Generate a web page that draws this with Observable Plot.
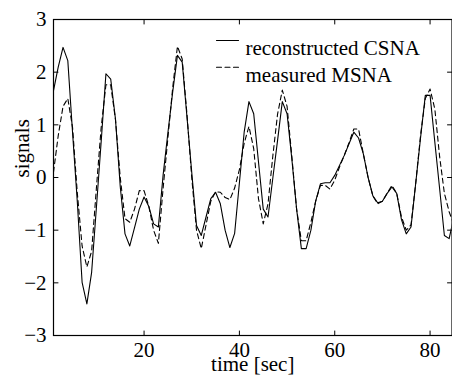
<!DOCTYPE html>
<html><head><meta charset="utf-8">
<script src="https://cdn.jsdelivr.net/npm/d3@7"></script>
<script src="https://cdn.jsdelivr.net/npm/@observablehq/plot@0.6"></script>
<style>
body{margin:0;background:#fff}
#chart svg{background:#fff;color:#000}
#chart svg, #chart svg text{font-family:"Liberation Serif","Times New Roman",serif !important}
</style>
</head><body><div id="chart"></div>
<script>
// time axis (sec), one sample per second
const time = d3.range(1, 86);
// reconstructed CSNA (solid)
const csna = [1.65, 2.1, 2.47, 2.22, 0.85, -0.47, -1.99, -2.40, -1.80, -0.57,
  0.68, 1.97, 1.87, 1.11, -0.17, -1.07, -1.30, -0.95, -0.60, -0.37,
  -0.55, -0.88, -0.94, 0.05, 0.85, 1.62, 2.32, 2.19, 1.15, 0.10,
  -0.91, -1.10, -0.75, -0.40, -0.28, -0.50, -1.00, -1.33, -1.06, -0.10,
  0.86, 1.44, 1.21, 0.30, -0.60, -0.75, -0.02, 0.70, 1.44, 1.21,
  0.35, -0.60, -1.35, -1.35, -1.00, -0.45, -0.12, -0.10, -0.10, 0.04,
  0.23, 0.42, 0.64, 0.86, 0.75, 0.45, 0.00, -0.35, -0.48, -0.45,
  -0.30, -0.18, -0.30, -0.80, -1.07, -0.94, -0.10, 0.75, 1.56, 1.56,
  0.67, -0.21, -1.10, -1.16, -0.75];
// measured MSNA (dashed)
const msna = [0.1, 0.8, 1.35, 1.5, 0.95, -0.3, -1.3, -1.70, -1.40, -0.2,
  0.95, 1.76, 1.76, 1.1, 0.0, -0.78, -0.85, -0.6, -0.25, -0.25,
  -0.55, -1.0, -1.25, -0.2, 0.75, 1.7, 2.49, 2.25, 1.2, 0.0,
  -1.0, -1.35, -0.9, -0.45, -0.27, -0.28, -0.38, -0.42, -0.2, 0.15,
  0.65, 0.97, 0.55, -0.4, -0.88, -0.5, 0.4, 1.2, 1.66, 1.35,
  0.4, -0.6, -1.2, -1.2, -0.85, -0.45, -0.15, -0.15, -0.22, -0.05,
  0.2, 0.42, 0.66, 0.92, 0.92, 0.45, 0.0, -0.35, -0.5, -0.45,
  -0.3, -0.15, -0.3, -0.75, -1.0, -0.9, -0.1, 0.8, 1.5, 1.68,
  1.3, 0.4, -0.3, -0.65, -0.9];
const seriesNames = ["reconstructed CSNA", "measured MSNA"];
const xTicks = [20, 40, 60, 80];
const yTicks = [-3, -2, -1, 0, 1, 2, 3];
const xLabel = "time [sec]";
const yLabel = "signals";

const csnaRows = time.map((t, i) => ({t, v: csna[i]}));
const msnaRows = time.map((t, i) => ({t, v: msna[i]}));

const lineShape = {draw(ctx, l) { ctx.moveTo(0, 0); ctx.lineTo(0, -l); }};
const tick = (data, opts) => Plot.vector(data, {length: 4.5, anchor: "start", shape: lineShape, stroke: "black", strokeWidth: 1, ...opts});
const fmt = d => d < 0 ? "\u2212" + (-d) : String(d);

const chart = Plot.plot({
  width: 452, height: 379,
  marginLeft: 53, marginTop: 19, marginRight: 0.5, marginBottom: 44,
  style: "font-size:21px;font-family:'Liberation Serif','Times New Roman',serif;color:black;background:white;",
  x: {domain: [1, 84.6]},
  y: {domain: [-3, 3]},
  marks: [
    Plot.line(msnaRows, {x: "t", y: "v", stroke: "black", strokeWidth: 1.1, strokeDasharray: "5,3.5", clip: true}),
    Plot.line(csnaRows, {x: "t", y: "v", stroke: "black", strokeWidth: 1.1, clip: true}),
    Plot.frame({stroke: "black", strokeWidth: 1.2}),
    tick(xTicks, {x: d => d, frameAnchor: "bottom", rotate: 0}),
    tick(xTicks, {x: d => d, frameAnchor: "top", rotate: 180}),
    tick(yTicks, {y: d => d, frameAnchor: "left", rotate: 90}),
    tick(yTicks, {y: d => d, frameAnchor: "right", rotate: -90}),
    Plot.axisX(xTicks, {anchor: "bottom", tickSize: 0, tickPadding: 7, label: null, fontSize: 21, tickFormat: fmt}),
    Plot.axisY(yTicks, {anchor: "left", tickSize: 0, tickPadding: 7, label: null, fontSize: 21, tickFormat: fmt}),
    Plot.text([xLabel], {text: d => d, frameAnchor: "bottom", dy: 35.5, fontSize: 21, fill: "black"}),
    Plot.text([yLabel], {text: d => d, frameAnchor: "left", dx: -31, rotate: -90, fontSize: 21, fill: "black"}),
    // legend
    Plot.vector([0], {frameAnchor: "top-left", dx: 163, dy: 21, rotate: 90, length: 22, anchor: "start", shape: lineShape, stroke: "black", strokeWidth: 1.1}),
    Plot.vector([0], {frameAnchor: "top-left", dx: 163, dy: 47.7, rotate: 90, length: 22, anchor: "start", shape: lineShape, stroke: "black", strokeWidth: 1.1, strokeDasharray: "5,3.5"}),
    Plot.text([seriesNames[0]], {text: d => d, frameAnchor: "top-left", dx: 192, dy: 21, textAnchor: "start", fontSize: 21, fill: "black"}),
    Plot.text([seriesNames[1]], {text: d => d, frameAnchor: "top-left", dx: 192, dy: 47.7, textAnchor: "start", fontSize: 21, fill: "black"})
  ]
});
document.getElementById("chart").append(chart);
</script>
</body></html>
